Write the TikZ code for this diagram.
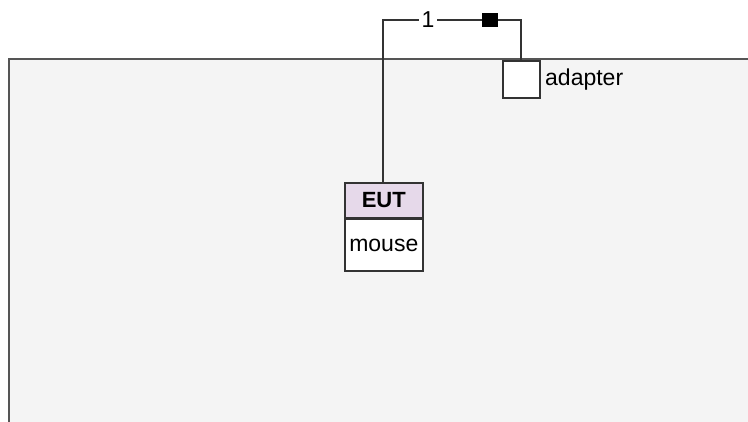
\documentclass[tikz,border=0pt]{standalone}
\usepackage{fontspec}
\setmainfont{Liberation Sans}
\definecolor{panelfill}{HTML}{F4F4F4}
\definecolor{panelline}{HTML}{555555}
\definecolor{wire}{HTML}{333333}
\definecolor{hdr}{HTML}{E6D9EA}
\tikzset{
  wireline/.style={draw=wire, line width=1.5pt},
  boxline/.style={draw=wire, line width=1.6pt},
  lbl/.style={font=\fontsize{23}{27}\selectfont, inner sep=0pt},
}
\begin{document}
\begin{tikzpicture}[x=1pt,y=-1pt]
\useasboundingbox (0,0) rectangle (748,421);
\fill[white] (0,0) rectangle (748,421);
% panel
\fill[panelfill] (9,59) rectangle (760,430);
\draw[draw=panelline, line width=2pt] (9,430) -- (9,59) -- (760,59);
% adapter
\node[boxline, fill=white, minimum width=37pt, minimum height=37pt, inner sep=0pt, anchor=north west] (adapter) at (502,60) {};
\node[lbl, anchor=west] (adlbl) at (545,80) {adapter};
% EUT
\node[boxline, fill=hdr, minimum width=78pt, minimum height=35pt, inner sep=0pt, anchor=north west, font=\fontsize{22}{26}\selectfont\bfseries] (euthead) at (344,182) {EUT};
\node[boxline, fill=white, minimum width=78pt, minimum height=51.5pt, inner sep=0pt, anchor=north, font=\fontsize{23}{27}\selectfont] (eutbody) at (euthead.south) {mouse};
% wire
\coordinate (c1) at (383,20);
\coordinate (c2) at (521,20);
\draw[wireline] (euthead.north -| c1) -- (c1) -- (c2) -- (adapter.north -| c2);
\node[lbl, fill=white, inner xsep=2.5pt] (one) at (428,20) {1};
\node[fill=black, minimum width=16pt, minimum height=14pt, inner sep=0pt] (sq) at (490,20) {};
\end{tikzpicture}
\end{document}
